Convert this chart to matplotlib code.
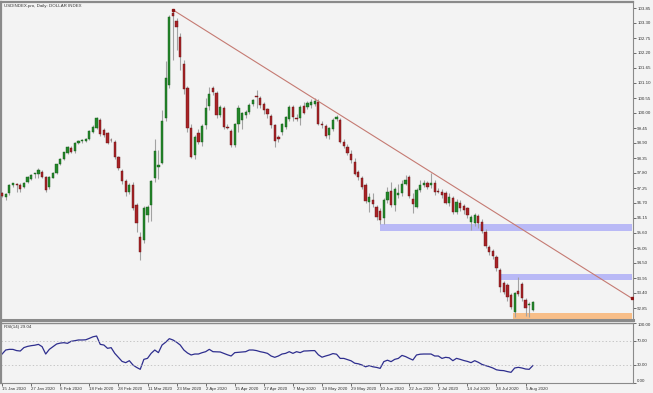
import numpy as np
import matplotlib.pyplot as plt
from matplotlib.patches import Rectangle

plt.rcParams['font.family'] = ['Liberation Sans', 'DejaVu Sans']

# daily USDINDEX bars, 15 Jan 2020 .. 7 Aug 2020
opens = [97.08, 96.91, 97.06, 97.35, 97.37, 97.37, 97.28, 97.48, 97.58, 97.76,
         97.75, 97.85, 97.66, 97.30, 97.63, 97.79, 98.13, 98.31, 98.52, 98.73,
         98.62, 98.89, 98.97, 98.98, 99.06, 99.31, 99.44, 99.74, 99.38, 99.28,
         99.01, 98.95, 98.38, 97.87, 97.51, 97.11, 97.35, 96.63, 95.46, 95.34,
         96.26, 96.63, 97.60, 98.01, 98.18, 99.81, 101.03, 103.68, 103.38, 102.78,
         101.80, 100.91, 99.44, 98.46, 99.28, 98.95, 99.56, 100.26, 100.91, 100.72,
         99.93, 100.17, 99.50, 99.34, 98.83, 99.60, 99.74, 99.93, 100.05, 100.33,
         100.60, 100.56, 100.33, 100.13, 99.90, 99.55, 99.13, 99.31, 99.50, 99.77,
         100.21, 99.82, 99.81, 100.26, 100.23, 100.29, 100.33, 100.41, 99.60, 99.52,
         99.19, 99.40, 99.77, 99.74, 98.95, 98.75, 98.50, 98.22, 97.85, 97.60,
         97.36, 96.72, 96.81, 96.54, 96.42, 96.14, 96.81, 97.15, 96.63, 97.00,
         97.05, 97.40, 97.67, 96.83, 96.57, 97.18, 97.36, 97.42, 97.36, 97.42,
         97.14, 97.12, 97.08, 96.69, 96.87, 96.38, 96.69, 96.59, 96.50, 96.02,
         95.95, 96.22, 96.00, 95.65, 95.08, 94.95, 94.73, 94.24, 93.78, 93.69,
         93.33, 92.72, 93.49, 93.73, 93.14, 92.95, 92.78]
highs = [97.12, 97.08, 97.40, 97.45, 97.44, 97.42, 97.47, 97.70, 97.76, 97.80,
         97.98, 97.90, 97.70, 97.68, 97.82, 98.14, 98.34, 98.58, 98.78, 98.80,
         98.92, 99.02, 99.03, 99.10, 99.37, 99.55, 99.84, 99.80, 99.45, 99.32,
         99.08, 99.00, 98.42, 97.95, 97.58, 97.42, 97.48, 96.70, 95.65, 96.60,
         96.62, 97.55, 99.03, 98.64, 100.10, 101.90, 103.60, 103.78, 103.47, 102.92,
         101.95, 101.00, 99.60, 99.20, 99.40, 99.60, 100.55, 100.94, 100.99, 100.80,
         100.30, 100.25, 99.60, 99.40, 99.65, 100.30, 100.05, 100.10, 100.35, 100.52,
         100.84, 100.62, 100.40, 100.20, 99.95, 99.60, 99.20, 99.65, 99.90, 100.30,
         100.30, 99.95, 100.28, 100.40, 100.45, 100.50, 100.54, 100.50, 99.70, 99.60,
         99.50, 99.80, 99.93, 99.80, 99.05, 98.85, 98.64, 98.35, 97.92, 97.70,
         97.45, 97.05, 97.05, 96.63, 96.50, 96.90, 97.30, 97.48, 97.30, 97.40,
         97.55, 97.72, 97.73, 97.05, 97.25, 97.54, 97.55, 97.50, 97.79, 97.54,
         97.25, 97.20, 97.15, 97.05, 96.95, 96.85, 96.80, 96.65, 96.55, 96.25,
         96.35, 96.28, 96.10, 95.75, 95.15, 95.00, 94.78, 94.30, 93.85, 93.75,
         93.40, 93.45, 93.98, 93.80, 93.20, 93.08, 93.12]
lows = [96.92, 96.81, 97.00, 97.30, 97.12, 97.10, 97.25, 97.45, 97.55, 97.62,
        97.60, 97.60, 97.12, 97.22, 97.60, 97.75, 98.10, 98.28, 98.50, 98.55,
        98.55, 98.85, 98.90, 98.95, 99.02, 99.28, 99.40, 99.15, 99.12, 98.85,
        98.93, 98.30, 97.90, 97.40, 96.95, 97.02, 96.45, 95.65, 94.61, 95.22,
        96.01, 96.05, 97.48, 97.57, 98.12, 99.70, 100.90, 101.95, 102.31, 101.58,
        100.70, 99.30, 98.34, 98.30, 98.85, 98.80, 99.40, 100.10, 100.66, 99.80,
        99.85, 99.40, 99.40, 98.75, 98.75, 99.30, 99.40, 99.80, 99.95, 100.25,
        100.18, 100.20, 99.95, 99.80, 99.45, 98.77, 98.95, 99.20, 99.40, 99.70,
        99.70, 99.70, 99.56, 99.95, 100.15, 100.20, 100.25, 99.55, 99.45, 99.10,
        99.05, 99.35, 99.70, 98.90, 98.72, 98.45, 98.15, 97.73, 97.55, 97.20,
        96.70, 96.38, 96.55, 96.08, 95.93, 95.93, 96.70, 96.55, 96.40, 96.90,
        96.95, 97.35, 96.90, 96.32, 96.50, 97.10, 97.30, 97.20, 97.25, 97.00,
        97.05, 96.90, 96.65, 96.60, 96.30, 96.30, 96.40, 96.30, 96.15, 95.70,
        95.85, 95.80, 95.60, 95.05, 94.80, 94.65, 94.22, 93.45, 93.35, 93.10,
        92.80, 92.53, 93.30, 93.10, 92.55, 92.53, 92.75]
closes = [96.96, 97.03, 97.36, 97.42, 97.36, 97.22, 97.44, 97.66, 97.73, 97.77,
          97.91, 97.64, 97.18, 97.64, 97.79, 98.12, 98.31, 98.56, 98.74, 98.58,
          98.89, 98.98, 98.98, 99.06, 99.34, 99.50, 99.81, 99.23, 99.19, 98.89,
          99.00, 98.40, 97.97, 97.51, 97.11, 97.35, 96.53, 95.98, 94.91, 96.50,
          96.54, 97.52, 98.61, 98.09, 99.72, 101.27, 103.53, 103.56, 103.16, 102.04,
          100.87, 99.44, 98.40, 99.13, 98.95, 99.52, 100.17, 100.70, 100.78, 99.93,
          100.21, 99.50, 99.44, 98.83, 99.60, 100.17, 99.99, 100.05, 100.29, 100.48,
          100.58, 100.29, 100.11, 99.96, 99.56, 98.98, 99.04, 99.60, 99.84, 100.21,
          99.84, 99.77, 100.21, 100.01, 100.36, 100.41, 100.44, 99.60, 99.55, 99.16,
          99.44, 99.74, 99.86, 98.95, 98.80, 98.55, 98.28, 97.76, 97.64, 97.27,
          96.79, 96.93, 96.66, 96.20, 96.08, 96.81, 97.12, 96.63, 97.20, 97.05,
          97.38, 97.54, 96.95, 96.65, 97.18, 97.36, 97.42, 97.30, 97.42, 97.12,
          97.12, 96.99, 96.71, 96.93, 96.38, 96.75, 96.50, 96.44, 96.26, 96.20,
          96.25, 95.95, 95.68, 95.12, 94.92, 94.76, 94.30, 93.63, 93.45, 93.26,
          92.90, 93.39, 93.36, 93.20, 92.84, 92.98, 93.08]

rsi = [48.3, 55.0, 56.1, 56.0, 54.0, 53.3, 59.0, 61.0, 62.2, 63.0,
       64.4, 60.6, 48.3, 56.1, 60.6, 65.0, 66.5, 67.2, 66.1, 69.5,
       70.5, 71.7, 71.7, 72.0, 74.4, 77.0, 78.3, 64.4, 63.3, 57.8,
       58.9, 49.4, 42.8, 36.0, 33.9, 37.2, 30.0, 26.0, 22.8, 39.4,
       41.1, 49.4, 55.0, 50.6, 63.3, 68.0, 73.9, 71.7, 68.0, 63.3,
       55.0, 50.0, 46.7, 48.3, 48.3, 50.5, 52.2, 56.1, 52.2, 52.0,
       51.7, 49.4, 47.0, 45.0, 50.6, 51.1, 51.5, 52.2, 55.0, 55.0,
       54.0, 52.2, 51.0, 49.4, 45.0, 42.8, 45.0, 48.3, 49.4, 52.2,
       49.4, 52.2, 50.6, 53.3, 53.5, 53.9, 54.0, 47.0, 43.0, 45.0,
       46.7, 49.0, 48.0, 41.0, 41.0, 39.0, 37.0, 33.0, 32.0, 30.0,
       27.0, 29.0, 27.0, 26.0, 24.4, 35.6, 38.0, 35.6, 39.4, 41.0,
       46.0, 44.0, 41.0, 38.3, 46.7, 48.0, 48.3, 48.3, 48.3, 45.0,
       45.0, 41.0, 42.8, 42.0, 37.2, 41.1, 39.4, 37.5, 36.0, 33.9,
       37.2, 34.5, 31.0, 29.0, 27.2, 25.0, 22.0, 21.0, 20.6, 19.0,
       17.8, 25.0, 26.1, 25.0, 23.3, 22.8, 29.04]

date_labels = ['15 Jan 2020', '27 Jan 2020', '6 Feb 2020', '18 Feb 2020', '28 Feb 2020',
               '11 Mar 2020', '23 Mar 2020', '2 Apr 2020', '15 Apr 2020', '27 Apr 2020',
               '7 May 2020', '19 May 2020', '29 May 2020', '10 Jun 2020', '22 Jun 2020',
               '2 Jul 2020', '14 Jul 2020', '24 Jul 2020', '5 Aug 2020']
date_bars = [0, 8, 16, 24, 32, 40, 48, 56, 64, 72, 80, 88, 96, 104, 112, 120, 128, 136, 144]

price_ticks = [92.85, 93.40, 93.95, 94.50, 95.05, 95.60, 96.15, 96.70, 97.25, 97.80,
               98.35, 98.90, 99.45, 100.00, 100.55, 101.10, 101.65, 102.20, 102.75,
               103.30, 103.85]
rsi_ticks = [0, 30, 70, 100]

# trendline from the March high and support/resistance zones
trend_bars = [47, 173.3]
trend_prices = [103.78, 93.20]
zone_start = [104, 137, 140.5]
zone_low = [95.66, 93.88, 92.45]
zone_high = [95.93, 94.10, 92.65]
zone_colors = ['#b9b9f6', '#b9b9f6', '#f8be88']

W, H = 653, 393
bg = '#f3f3f3'
edge = '#8a8a8a'
txt = '#333333'
fs = 3.2
x_right = 173.55

fig = plt.figure(figsize=(W / 100, H / 100), dpi=100, facecolor=bg)
ax = fig.add_axes([1 / W, (H - 320) / H, 632 / W, 318 / H], facecolor=bg)
ax_rsi = fig.add_axes([1 / W, (H - 383) / H, 632 / W, 60 / H], facecolor=bg, sharex=ax)

x = np.arange(len(closes))
o, h, l, c = map(np.array, (opens, highs, lows, closes))
up = c >= o
body_bot = np.minimum(o, c)
body_h = np.maximum(np.abs(c - o), 0.025)

for xs, lo, hi, col in zip(zone_start, zone_low, zone_high, zone_colors):
    ax.add_patch(Rectangle((xs, lo), x_right - 0.25 - xs, hi - lo, facecolor=col,
                           edgecolor='none', zorder=1))

ax.vlines(x, l, h, color='#a2a2a2', lw=0.8, zorder=2)
ax.bar(x[up], body_h[up], bottom=body_bot[up], width=0.62, color='#23872a',
       edgecolor='#155a18', linewidth=0.3, zorder=3)
ax.bar(x[~up], body_h[~up], bottom=body_bot[~up], width=0.62, color='#a82326',
       edgecolor='#641214', linewidth=0.3, zorder=3)

ax.plot(trend_bars, trend_prices, color='#c57a72', lw=0.8, zorder=4)
ax.plot(trend_bars, trend_prices, ls='none', marker='s', ms=1.6, color='#8e1414', zorder=5)

ax.set_xlim(-0.3, x_right)
ax.set_ylim(92.41, 104.07)
ax.yaxis.tick_right()
ax.set_yticks(price_ticks)
ax.set_yticklabels([f'{v:.2f}' for v in price_ticks])
ax.tick_params(axis='y', length=2, width=0.5, pad=1, labelsize=fs, colors=txt)
ax.tick_params(axis='x', bottom=False, labelbottom=False)
ax.text(0.004, 0.993, 'USDINDEX.pro, Daily: DOLLAR INDEX', transform=ax.transAxes,
        fontsize=fs, color=txt, va='top', ha='left')

# RSI sub-window
ax_rsi.plot(x, rsi, color='#2e2e8e', lw=0.9)
for lvl in (30, 70):
    ax_rsi.axhline(lvl, color='#b5b5b5', lw=0.5, ls=(0, (2, 3)))
ax_rsi.set_ylim(0, 100)
ax_rsi.yaxis.tick_right()
ax_rsi.set_yticks(rsi_ticks)
ax_rsi.set_yticklabels([f'{v:.2f}' for v in rsi_ticks])
ax_rsi.tick_params(axis='y', length=2, width=0.5, pad=1, labelsize=fs, colors=txt)
labs = ax_rsi.get_yticklabels()
labs[0].set_va('bottom')
labs[-1].set_va('top')
ax_rsi.text(0.004, 0.96, f'RSI(14) {rsi[-1]:.2f}', transform=ax_rsi.transAxes,
            fontsize=fs, color=txt, va='top', ha='left')

ax_rsi.set_xticks(date_bars)
ax_rsi.set_xticklabels(date_labels, ha='left')
ax_rsi.tick_params(axis='x', length=2, width=0.5, pad=1, labelsize=fs, colors=txt)

for a in (ax, ax_rsi):
    for s in a.spines.values():
        s.set_color(edge)
        s.set_linewidth(0.8)
ax.spines['bottom'].set_linewidth(2.2)
ax.spines['top'].set_linewidth(1.6)
ax.spines['left'].set_linewidth(1.6)
ax_rsi.spines['top'].set_linewidth(1.0)
ax_rsi.spines['left'].set_linewidth(1.6)

fig.savefig('out.png', dpi=100, facecolor=bg)
